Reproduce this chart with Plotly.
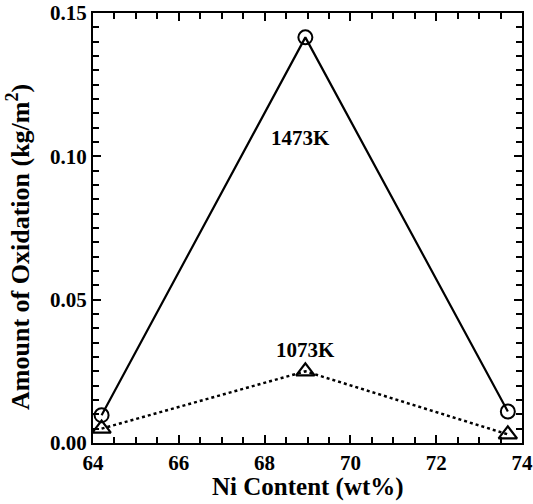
import plotly.graph_objects as go

ni_content = [64.2, 68.95, 73.67]
oxid_1473 = [0.0097, 0.1415, 0.011]
oxid_1073 = [0.005, 0.025, 0.003]
label_1473 = "1473K"
label_1073 = "1073K"
x_title = "Ni Content (wt%)"
y_title = "Amount of Oxidation (kg/m<sup>2</sup>)"

FONT = "Liberation Serif, Times New Roman, serif"

fig = go.Figure()
fig.add_trace(go.Scatter(
    x=ni_content, y=oxid_1473, mode="lines+markers", name=label_1473,
    line=dict(color="black", width=2.2),
    marker=dict(symbol="circle-open", size=14, color="black", line=dict(width=2)),
))
fig.add_trace(go.Scatter(
    x=ni_content, y=oxid_1073, mode="lines+markers", name=label_1073,
    line=dict(color="black", width=2.5, dash="dot"),
    marker=dict(symbol="triangle-up-open", size=16, color="black", line=dict(width=2.2)),
))

fig.add_annotation(x=68.83, y=0.1064, text=label_1473, showarrow=False,
                   font=dict(family=FONT, size=21, color="black", weight="bold"))
fig.add_annotation(x=68.95, y=0.0325, text=label_1073, showarrow=False,
                   font=dict(family=FONT, size=21, color="black", weight="bold"))

# axis titles as paper-positioned annotations
fig.add_annotation(xref="paper", yref="paper", x=0.5, y=-0.102, text=x_title,
                   showarrow=False, xanchor="center", yanchor="middle",
                   font=dict(family=FONT, size=25, color="black", weight="bold"))
fig.add_annotation(xref="paper", yref="paper", x=-0.1725, y=0.456, text=y_title,
                   showarrow=False, xanchor="center", yanchor="middle", textangle=-90,
                   font=dict(family=FONT, size=26, color="black", weight="bold"))

axis_common = dict(
    showgrid=False, zeroline=False, showline=True, linecolor="black", linewidth=2,
    mirror="allticks", ticks="inside", ticklen=8, tickwidth=1.5, tickcolor="black",
    tickfont=dict(family=FONT, size=21, color="black", weight="bold"),
    automargin=False,
)

fig.update_xaxes(
    range=[64, 74], tick0=64, dtick=2,
    minor=dict(dtick=0.5, ticks="inside", ticklen=6, tickwidth=1.5, tickcolor="black"),
    **axis_common,
)
fig.update_yaxes(
    range=[0, 0.15], tick0=0, dtick=0.05, tickformat=".2f",
    minor=dict(dtick=0.005, ticks="inside", ticklen=6, tickwidth=1.5, tickcolor="black"),
    **axis_common,
)

fig.update_layout(
    width=533, height=504,
    margin=dict(l=93, r=11, t=13, b=61),
    plot_bgcolor="white", paper_bgcolor="white",
    showlegend=False,
)

fig.write_html("out.html", config={"displayModeBar": False},
               post_script="document.body.style.margin='0';")
